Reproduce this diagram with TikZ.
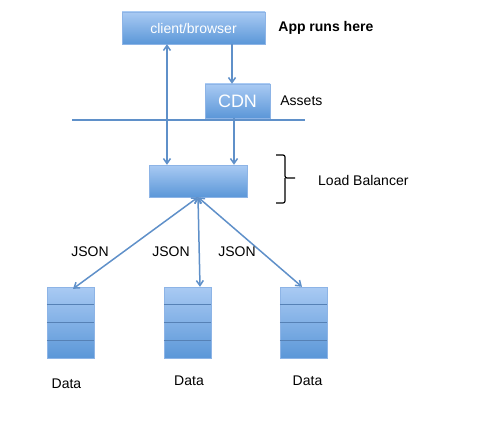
\documentclass[tikz,border=0pt]{standalone}
\usepackage{fontspec}
\setmainfont{Liberation Sans}
\usepackage{xcolor}
\definecolor{colTop}{HTML}{A9CAF3}
\definecolor{colBottom}{HTML}{5B97D8}
\definecolor{colEdge}{HTML}{8DB4E6}
\definecolor{colArrow}{HTML}{5F90C9}
\definecolor{colRow}{HTML}{5681B5}
\usetikzlibrary{arrows.meta, positioning, calc}
\tikzset{
    tierbox/.style={
        draw=colEdge, top color=colTop, bottom color=colBottom,
        text=white, inner sep=0pt,
        font=\fontsize{14}{16}\selectfont
    },
    dbstack/.style={
        draw=colEdge, top color=colTop, bottom color=colBottom,
        minimum width=47pt, minimum height=71pt, inner sep=0pt
    },
    myarrow/.style={-{Straight Barb[length=5pt,width=7pt]}, line width=1.5pt, color=colArrow},
    bothway/.style={myarrow, {Straight Barb[length=5pt,width=7pt]}-{Straight Barb[length=5pt,width=7pt]}},
    plainlbl/.style={inner sep=0pt, font=\fontsize{14}{16}\selectfont},
}

\begin{document}
\begin{tikzpicture}[x=1pt, y=-1pt]
    \useasboundingbox (0,0) rectangle (484,425);

    % tiers
    \node[tierbox, minimum width=143pt, minimum height=32pt] (client) at (193.5,28) {client/browser};
    \node[tierbox, minimum width=65pt, minimum height=34pt,
          font=\fontsize{18}{20}\selectfont] (cdn) at (237.5,101) {CDN};
    \node[tierbox, minimum width=98pt, minimum height=32pt] (lb) at (198,181) {};

    \node[plainlbl, font=\fontsize{14}{16}\selectfont\bfseries, right=13pt of client] (app) {App runs here};
    \node[plainlbl, right=10pt of cdn] (assets) {Assets};

    \draw[line width=1.5pt, color=colArrow] (72,120) -- (305,120);

    % load balancer brace
    \coordinate (brtop) at (276,155);
    \coordinate (brbot) at (276,203);
    \coordinate (brtip) at (295,178);
    \draw[line width=1.2pt, rounded corners=2pt]
        (brtop) -- ++(9,0) |- (brtip) (brbot) -- ++(9,0) -- ++(0,-25);
    \node[plainlbl, anchor=west] (lblb) at (318,180) {Load Balancer};

    % data stores
    \node[dbstack] (db1) at (70.5,322.5) {};
    \node[dbstack] (db2) at (187.5,322.5) {};
    \node[dbstack] (db3) at (303.5,322.5) {};
    \foreach \s in {db1,db2,db3}
        \foreach \k in {1,2,3}
            \draw[colRow, line width=1pt]
                ($(\s.north west)!\k/4!(\s.south west)$) -- ($(\s.north east)!\k/4!(\s.south east)$);

    \node[plainlbl, below=20pt of db1, xshift=-4pt] (d1) {Data};
    \node[plainlbl, below=17pt of db2, xshift=1.5pt] (d2) {Data};
    \node[plainlbl, below=17pt of db3, xshift=4pt] (d3) {Data};

    % connectors
    \coordinate (clout) at ($(client.south west)!0.315!(client.south east)$);
    \draw[bothway] (clout) -- (clout |- lb.north);
    \draw[myarrow] ([xshift=-5.5pt]cdn.north |- client.south) -- ([xshift=-5.5pt]cdn.north);
    \draw[myarrow] ([xshift=-3.5pt]cdn.south) -- ([xshift=-3.5pt]cdn.south |- lb.north);

    \draw[bothway] (lb.south) -- ([xshift=2.5pt,yshift=-2pt]db1.north);
    \draw[bothway] (lb.south) -- ([xshift=12.5pt]db2.north);
    \draw[bothway] (lb.south) -- ([xshift=-1.5pt]db3.north);

    \node[plainlbl] (j1) at (90,252) {JSON};
    \node[plainlbl] (j2) at (171,252) {JSON};
    \node[plainlbl] (j3) at (237,252) {JSON};
\end{tikzpicture}
\end{document}
